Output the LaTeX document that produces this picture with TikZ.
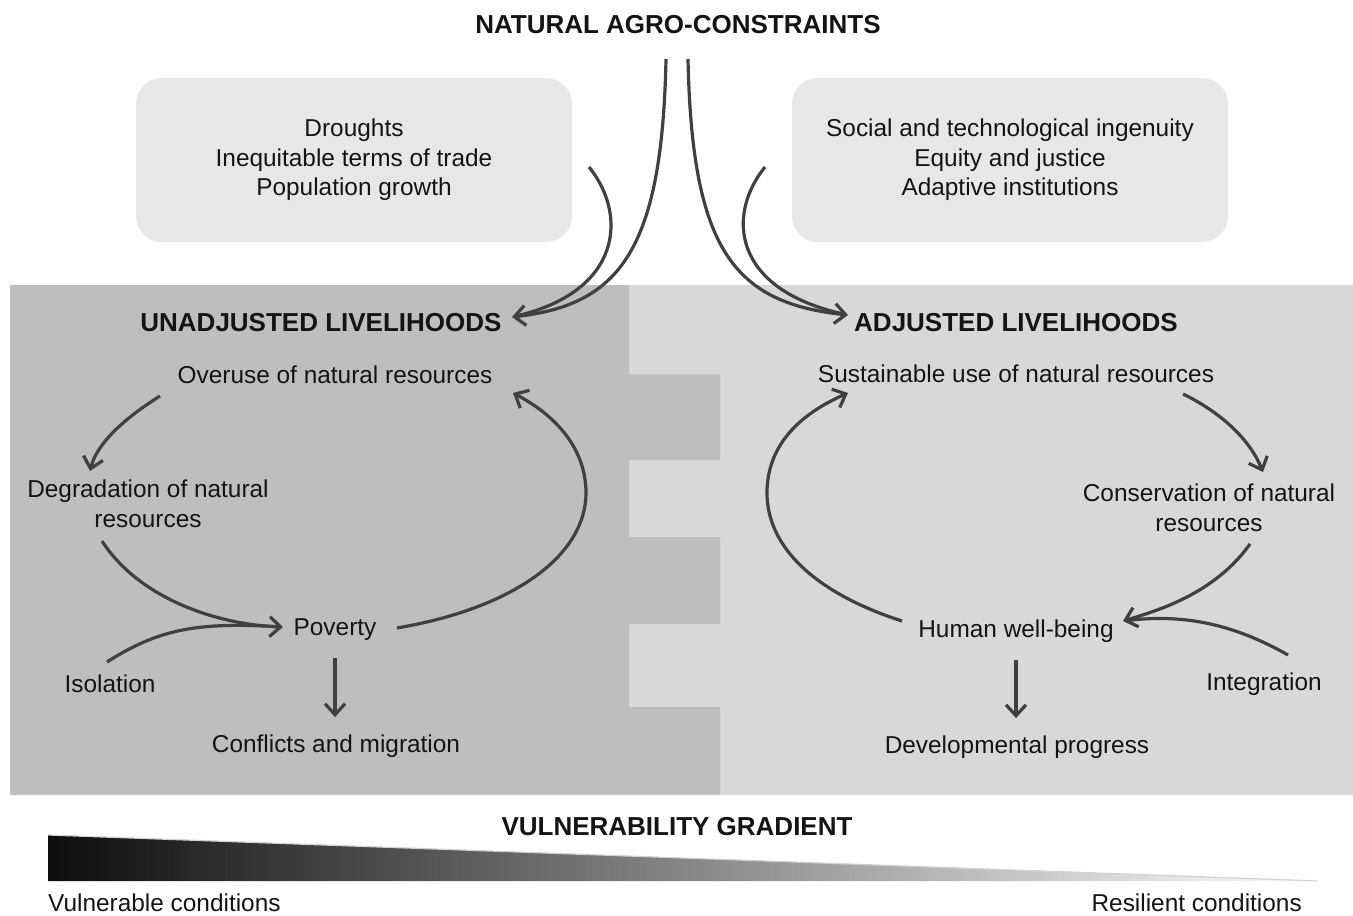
\documentclass[tikz,border=0pt]{standalone}
\usepackage{fontspec}
\setmainfont{Liberation Sans}
\usetikzlibrary{arrows.meta,calc}
\definecolor{arrowc}{HTML}{404040}
\definecolor{darkp}{HTML}{BEBEBE}
\definecolor{lightp}{HTML}{D8D8D8}
\definecolor{boxc}{HTML}{E7E7E7}
\definecolor{txt}{HTML}{141414}
\begin{document}
\begin{tikzpicture}[x=1pt,y=-1pt,
  lbl/.style={font=\fontsize{24.4}{29.5}\selectfont, inner sep=0pt, text=txt, align=center},
  ttl/.style={font=\fontsize{26}{30}\selectfont\bfseries, inner sep=0pt, text=txt},
  flow/.style={draw=arrowc, line width=3.2pt, -{Straight Barb[length=11pt,width=20pt]}},
  plain/.style={draw=arrowc, line width=3.2pt},
  topbox/.style={fill=boxc, rounded corners=26pt}]
\useasboundingbox (0,0) rectangle (1353,916);

% panels
\fill[lightp] (629,285) rectangle (1353,795);
\fill[darkp] (10,285) -- (629,285) -- (629,374) -- (720,374) -- (720,460) -- (629,460)
  -- (629,537) -- (720,537) -- (720,624) -- (629,624) -- (629,707) -- (720,707)
  -- (720,795) -- (10,795) -- cycle;

% top boxes
\fill[topbox] (136,78) rectangle (572,242);
\fill[topbox] (792,78) rectangle (1228,242);

% texts
\node[ttl, anchor=base] (title) at (678,33) {NATURAL AGRO-CONSTRAINTS};
\node[lbl] (pressures) at (354,160) {Droughts\\Inequitable terms of trade\\Population growth};
\node[lbl] (ingenuity) at (1010,160) {Social and technological ingenuity\\Equity and justice\\Adaptive institutions};
\node[ttl, anchor=base] (unadj) at (321,331) {UNADJUSTED LIVELIHOODS};
\node[ttl, anchor=base] (adj) at (1016,331) {ADJUSTED LIVELIHOODS};

\node[lbl, anchor=base] (overuse) at (335,383) {Overuse of natural resources};
\node[lbl] (degr) at (148,504) {Degradation of natural\\resources};
\node[lbl, anchor=base] (poverty) at (335,635) {Poverty};
\node[lbl, anchor=base] (isol) at (110,692) {Isolation};
\node[lbl, anchor=base] (confl) at (336,752) {Conflicts and migration};

\node[lbl, anchor=base] (sust) at (1016,382) {Sustainable use of natural resources};
\node[lbl] (cons) at (1209,508) {Conservation of natural\\resources};
\node[lbl, anchor=base] (human) at (1016,637) {Human well-being};
\node[lbl, anchor=base] (integ) at (1264,690) {Integration};
\node[lbl, anchor=base] (devel) at (1017,753) {Developmental progress};

\node[ttl, anchor=base] (vgrad) at (677,835) {VULNERABILITY GRADIENT};
\node[lbl, anchor=base west] (vuln) at (48,911) {Vulnerable conditions};
\node[lbl, anchor=base east] (resil) at (1302,911) {Resilient conditions};

% gradient wedge
\shade[left color=black!95, right color=white] (48,835) -- (1318,881) -- (48,881) -- cycle;
\draw[gray!35, line width=1.2pt] (48,835) -- (1318,881);

% connector endpoints
\coordinate (srcL) at (666,59);
\coordinate (srcR) at (688,59);
\coordinate (presOut) at (589,167);
\coordinate (ingOut) at (765,167);
\coordinate (unadjIn) at (512,317);
\coordinate (adjIn) at (848,315);

\coordinate (ovOut) at (160,396);
\coordinate (dgIn) at (90,471);
\coordinate (dgOut) at (102,541);
\coordinate (pvIn) at (283,627);
\coordinate (isOut) at (107,662);
\coordinate (pvOut) at (397,628);
\coordinate (ovIn) at (513,393);

\coordinate (suOut) at (1183,394);
\coordinate (coIn) at (1263,472);
\coordinate (coOut) at (1250,544);
\coordinate (huIn) at (1123,621);
\coordinate (inOut) at (1288,655);
\coordinate (huOut) at (902,621);
\coordinate (suIn) at (848,393);

% top flows
\draw[flow] (srcL) .. controls (662,250) and (620,305) .. (unadjIn);
\draw[plain, shorten >=3pt] (presOut) .. controls (628,215) and (622,292) .. (unadjIn);
\draw[flow] (srcR) .. controls (692,250) and (734,303) .. (adjIn);
\draw[plain, shorten >=3pt] (ingOut) .. controls (726,215) and (732,290) .. (adjIn);

% left cycle
\draw[flow] (ovOut) .. controls (125,418) and (97,443) .. (dgIn);
\draw[flow] (dgOut) .. controls (140,600) and (220,625) .. (pvIn);
\draw[plain, shorten >=3pt] (isOut) .. controls (160,628) and (200,622) .. (pvIn);
\draw[flow] (pvOut) .. controls (520,607) and (586,552) .. (586,493) .. controls (586,448) and (555,415) .. (ovIn);
\draw[flow] ($(poverty.south)+(0,18)$) -- ($(poverty.south |- confl.north)+(0,-17)$);

% right cycle
\draw[flow] (suOut) .. controls (1222,413) and (1250,440) .. (coIn);
\draw[flow] (coOut) .. controls (1215,593) and (1160,610) .. (huIn);
\draw[plain, shorten >=3pt] (inOut) .. controls (1230,622) and (1180,614) .. (huIn);
\draw[flow] (huOut) .. controls (812,592) and (767,545) .. (767,493) .. controls (767,445) and (800,414) .. (suIn);
\draw[flow] ($(human.south)+(0,18)$) -- ($(human.south |- devel.north)+(0,-17)$);
\end{tikzpicture}
\end{document}
